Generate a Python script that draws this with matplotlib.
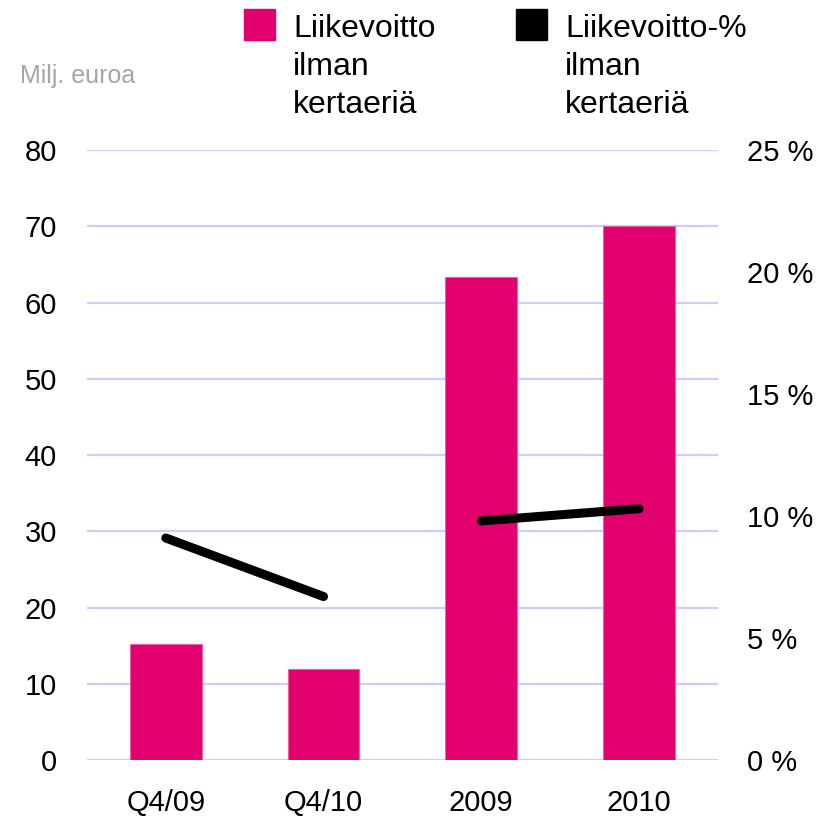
import matplotlib
matplotlib.use("Agg")
import matplotlib.pyplot as plt
from matplotlib.patches import Rectangle

plt.rcParams['font.family'] = ['Liberation Sans', 'DejaVu Sans']

categories = ["Q4/09", "Q4/10", "2009", "2010"]
profit = [15.2, 11.9, 63.3, 70.1]          # Milj. euroa
margin_pct = [9.1, 6.7, 9.8, 10.3]         # %
left_ticks = [0, 10, 20, 30, 40, 50, 60, 70, 80]
right_ticks = [0, 5, 10, 15, 20, 25]
series_names = ["Liikevoitto\nilman\nkertaeriä", "Liikevoitto-%\nilman\nkertaeriä"]
unit_label = "Milj. euroa"

bar_color = "#E2006F"
line_color = "#000000"
grid_color = "#CCCCFF"

fig = plt.figure(figsize=(8.28, 8.19), dpi=100)
ax = fig.add_axes([0.105, 0.072, 0.762, 0.7448])
x = list(range(len(categories)))
ax.bar(x, profit, width=0.455, color=bar_color, edgecolor="#EE5FA0", linewidth=0.8, zorder=3)
ax.set_xlim(-0.5, len(categories) - 0.5)
ax.set_ylim(0, 80)
ax.set_yticks(left_ticks)
ax.set_yticklabels([str(t) for t in left_ticks])
ax.set_xticks(x)
ax.set_xticklabels(categories)
for s in ax.spines.values():
    s.set_visible(False)
ax.tick_params(axis='both', length=0, labelsize=21)
ax.tick_params(axis='y', pad=21.5)
ax.tick_params(axis='x', pad=20.5)
ax.grid(axis='y', color=grid_color, linewidth=1.6, zorder=0)
ax.set_axisbelow(True)

ax2 = ax.twinx()
ax2.set_ylim(0, 25)
ax2.set_yticks(right_ticks)
ax2.set_yticklabels([f"{t} %" for t in right_ticks])
for s in ax2.spines.values():
    s.set_visible(False)
ax2.tick_params(axis='y', length=0, labelsize=21, pad=21)
ax2.plot(x[0:2], margin_pct[0:2], color=line_color, linewidth=6.5, solid_capstyle='round', zorder=5)
ax2.plot(x[2:4], margin_pct[2:4], color=line_color, linewidth=6.5, solid_capstyle='round', zorder=5)

fig.text(20 / 828, 1 - 76 / 819, unit_label, fontsize=18, color="#A6A6A6", va='center', ha='left')

legend_specs = [(244, bar_color, series_names[0]), (516, line_color, series_names[1])]
for xpx, col, name in legend_specs:
    fig.add_artist(Rectangle((xpx / 828, 1 - 40 / 819), 31 / 828, 31 / 819,
                             transform=fig.transFigure, color=col))
    fig.text((xpx + 49) / 828, 1 - 14 / 819, name, fontsize=23, va='top', ha='left',
             linespacing=1.34)

fig.savefig("out.png", dpi=100)
